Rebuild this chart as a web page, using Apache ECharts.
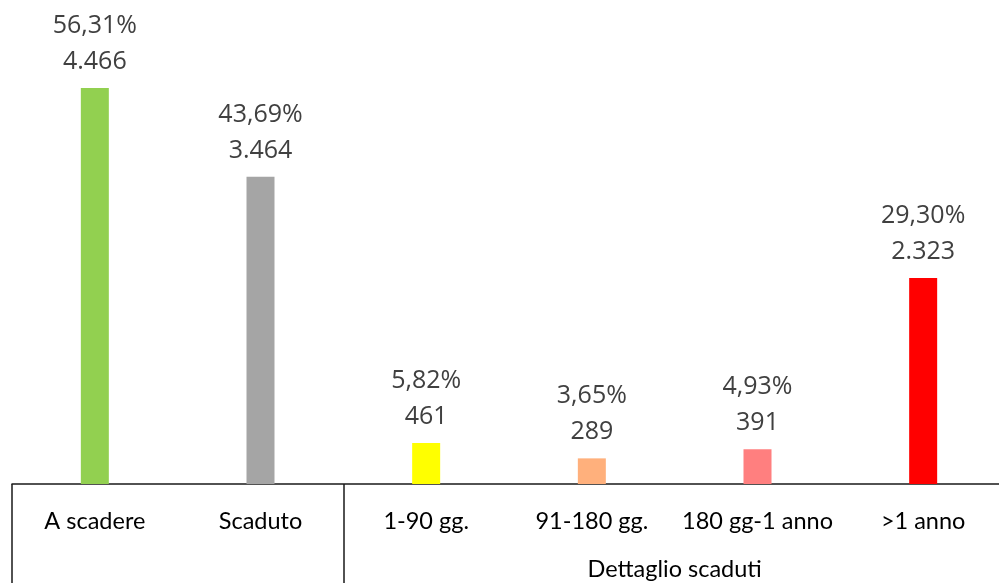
<!DOCTYPE html>
<html>
<head>
<meta charset="utf-8">
<script src="https://cdn.jsdelivr.net/npm/echarts@6/dist/echarts.min.js"></script>
<style>
html,body{margin:0;padding:0;background:#fff;overflow:hidden;width:999px;height:583px;}
#c{width:1008px;height:583px;}
</style>
</head>
<body>
<div id="c"></div>
<script>
var categories = ['A scadere', 'Scaduto', '1-90 gg.', '91-180 gg.', '180 gg-1 anno', '>1 anno'];
var values = [4466, 3464, 461, 289, 391, 2323];
var percents = [56.31, 43.69, 5.82, 3.65, 4.93, 29.30];
var barColors = ['#92D050', '#A5A5A5', '#FFFF00', '#FFB07C', '#FF7F7F', '#FF0000'];
var groupLabel = 'Dettaglio scaduti';
var groupStart = 2; // first category index of the group

function fmtInt(v) {
  return String(v).replace(/\B(?=(\d{3})+(?!\d))/g, '.');
}
function fmtPct(p) {
  return p.toFixed(2).replace('.', ',') + '%';
}

var chart = echarts.init(document.getElementById('c'));
var option = {
  backgroundColor: '#fff',
  animation: false,
  grid: { left: 12, right: 2, top: 0, bottom: 99 },
  xAxis: {
    type: 'category',
    data: categories,
    axisLine: { lineStyle: { color: '#1a1a1a', width: 1.5 } },
    axisTick: {
      show: true,
      length: 99,
      interval: function (index) { return index === 0 || index === groupStart; },
      lineStyle: { color: '#1a1a1a', width: 1.5 }
    },
    axisLabel: {
      interval: 0,
      margin: 25,
      color: '#000',
      fontFamily: 'Lato',
      fontSize: 23.5
    }
  },
  yAxis: {
    type: 'value',
    min: 0,
    max: 5458,
    show: false,
    splitLine: { show: false }
  },
  series: [{
    type: 'bar',
    barWidth: 28,
    data: values.map(function (v, i) {
      return { value: v, itemStyle: { color: barColors[i] } };
    }),
    label: {
      show: true,
      position: 'top',
      distance: 8,
      color: '#404040',
      fontFamily: 'Open Sans',
      fontSize: 25,
      lineHeight: 36,
      align: 'center',
      formatter: function (p) {
        return fmtPct(percents[p.dataIndex]) + '\n' + fmtInt(values[p.dataIndex]);
      }
    }
  }]
};
chart.setOption(option);

var xs = chart.convertToPixel({ xAxisIndex: 0 }, groupStart);
var xe = chart.convertToPixel({ xAxisIndex: 0 }, categories.length - 1);
var band = chart.convertToPixel({ xAxisIndex: 0 }, 1) - chart.convertToPixel({ xAxisIndex: 0 }, 0);
var cx = ((xs - band / 2) + (xe + band / 2)) / 2;
var baseY = chart.convertToPixel({ yAxisIndex: 0 }, 0);
chart.setOption({
  graphic: [{
    type: 'text',
    x: cx,
    y: baseY + 85,
    style: {
      text: groupLabel,
      fill: '#000',
      font: '23.5px Lato',
      textAlign: 'center',
      textVerticalAlign: 'middle'
    }
  }]
});
</script>
</body>
</html>
